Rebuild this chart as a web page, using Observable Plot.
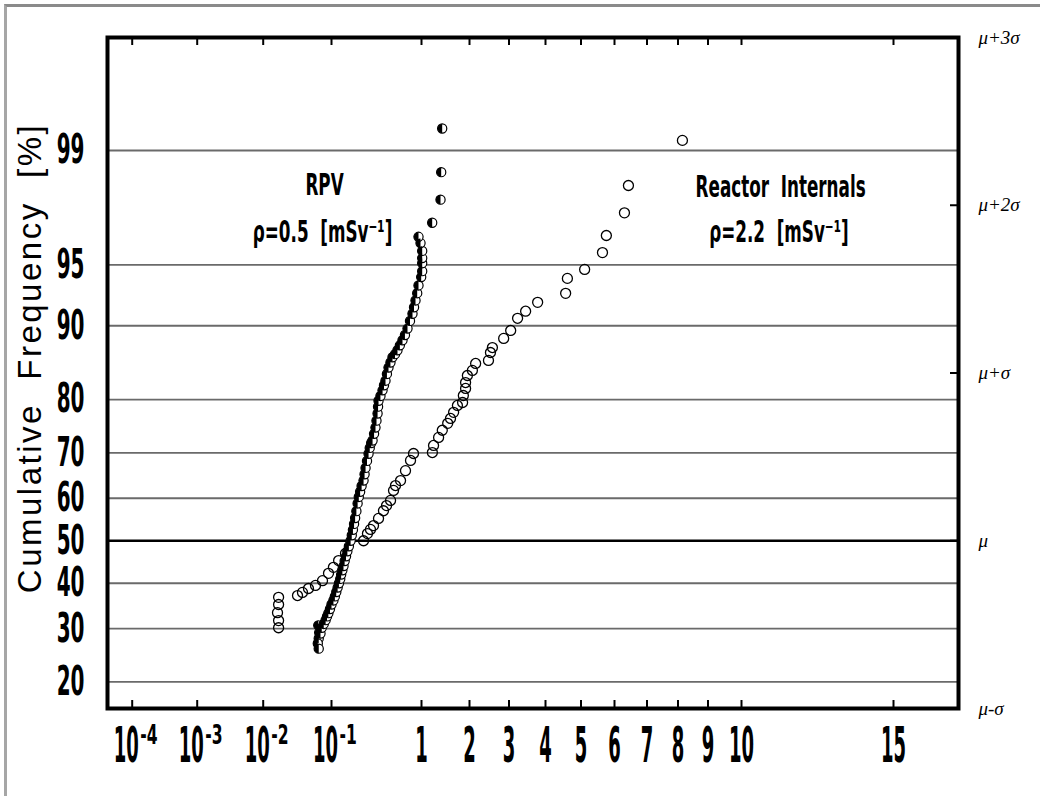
<!DOCTYPE html>
<html><head><meta charset="utf-8">
<script src="https://cdn.jsdelivr.net/npm/d3@7"></script>
<script src="https://cdn.jsdelivr.net/npm/@observablehq/plot@0.6"></script>
<style>
html,body{margin:0;padding:0;background:#fff;}
#wrap{position:relative;width:1040px;height:796px;overflow:hidden;}
#scan{position:absolute;left:4px;top:4px;right:-10px;bottom:-10px;border-top:3px solid #8a8a8a;border-left:3px solid #a6a6a6;}
#chart{position:absolute;left:0;top:0;}
</style></head><body>
<div id="wrap"><div id="scan"></div><div id="chart"></div></div>
<script>
// ---- data ----
const rpvDose = [0.064,0.066,0.065,0.063,0.065,0.069,0.072,0.077,0.082,0.086,0.090,0.095,0.100,0.105,0.109,0.113,0.117,0.121,0.125,0.128,0.132,0.136,0.140,0.145,0.150,0.156,0.163,0.168,0.173,0.178,0.183,0.189,0.195,0.201,0.208,0.216,0.227,0.233,0.239,0.248,0.258,0.266,0.276,0.286,0.297,0.308,0.316,0.325,0.329,0.333,0.350,0.369,0.383,0.398,0.413,0.430,0.452,0.476,0.508,0.541,0.575,0.615,0.655,0.699,0.745,0.794,0.826,0.858,0.896,0.926,0.992,1.01,1.01,1.01,1.01,0.975,0.926,1.167,1.316,1.329,1.348];
const rpvFreq = [30.7,29.2,28.0,27.0,26.0,29.0,30.2,31.0,31.8,32.6,33.3,34.2,35.2,36.1,37.0,38.0,39.0,40.0,41.0,42.0,43.0,44.0,45.2,46.3,47.5,48.7,50.0,51.3,52.6,54.0,55.4,57.0,58.8,60.3,61.5,62.8,64.0,65.4,66.8,68.3,69.8,71.0,72.0,72.5,73.8,75.0,76.3,77.6,78.8,79.8,80.6,81.5,82.3,83.0,84.0,84.9,85.6,86.3,86.7,87.2,87.8,88.4,89.0,89.7,90.5,91.2,91.8,92.4,93.0,93.6,94.2,94.6,95.1,95.4,95.8,96.2,96.5,97.1,97.9,98.6,99.3];
const riDose = [8.14,6.41,6.29,5.74,5.62,5.10,4.59,4.54,3.76,3.42,3.21,3.04,2.84,2.53,2.48,2.43,2.13,2.06,1.94,1.89,1.89,1.83,1.81,1.68,1.59,1.52,1.46,1.35,1.28,1.19,1.17,0.815,0.755,0.664,0.585,0.514,0.489,0.453,0.409,0.378,0.333,0.293,0.271,0.251,0.227,0.143,0.120,0.105,0.0904,0.0738,0.0583,0.0460,0.0376,0.0318,0.0168,0.0168,0.0162,0.0168,0.0168];
const riFreq = [99.15,98.29,97.47,96.56,95.71,94.71,94.11,92.99,92.24,91.44,90.76,89.50,88.61,87.53,86.91,85.88,85.47,84.50,83.77,82.72,81.80,80.67,79.51,79.0,77.8,76.7,75.8,74.5,73.1,71.5,70.05,69.85,68.4,66.2,64.0,62.9,61.8,59.5,58.3,57.1,55.3,53.6,52.7,51.7,50.0,47.0,45.3,43.7,42.3,40.6,39.5,38.8,37.9,37.2,36.8,35.2,33.4,31.7,30.2];

const freqTicks = [20,30,40,50,60,70,80,90,95,99];
const sigmaTicks = [-1,0,1,2,3];
const sigmaLabels = ["μ-σ","μ","μ+σ","μ+2σ","μ+3σ"];
const doseLogTicks = [1e-4,1e-3,1e-2,1e-1];
const doseLinTicks = [1,2,3,4,5,6,7,8,9,10,15];

const annoText = ["RPV","ρ=0.5  [mSv⁻¹]","Reactor  Internals","ρ=2.2  [mSv⁻¹]"];
const annoDose = [0.079,0.074,11.1,11.05];
const annoFreq = [98.3,96.7,98.24,96.7];

// hand-drawn, piecewise dose axis of the original sheet (knots of the x scale)
const xKnots = [4.2e-5,1e-4,1e-3,1e-2,1e-1,1,2,3,4,5,6,7,8,9,10,15,17.1];
const xKnotPx = [107,131.7,196.7,262.7,331,421,469,508.5,545,580.5,614,646.5,677.5,707.5,741,893,958];

// ---- normal probability (probit) transform ----
function probit(p){
  const a=[-3.969683028665376e+01,2.209460984245205e+02,-2.759285104469687e+02,1.383577518672690e+02,-3.066479806614716e+01,2.506628277459239e+00];
  const b=[-5.447609879822406e+01,1.615858368580409e+02,-1.556989798598866e+02,6.680131188771972e+01,-1.328068155288572e+01];
  const c=[-7.784894002430293e-03,-3.223964580411365e-01,-2.400758277161838e+00,-2.549732539343734e+00,4.374664141464968e+00,2.938163982698783e+00];
  const d=[7.784695709041462e-03,3.224671290700398e-01,2.445134137142996e+00,3.754408661907416e+00];
  const pl=0.02425;
  if(p<pl){const q=Math.sqrt(-2*Math.log(p));return (((((c[0]*q+c[1])*q+c[2])*q+c[3])*q+c[4])*q+c[5])/((((d[0]*q+d[1])*q+d[2])*q+d[3])*q+1);}
  if(p>1-pl){const q=Math.sqrt(-2*Math.log(1-p));return -(((((c[0]*q+c[1])*q+c[2])*q+c[3])*q+c[4])*q+c[5])/((((d[0]*q+d[1])*q+d[2])*q+d[3])*q+1);}
  const q=p-0.5,r=q*q;return (((((a[0]*r+a[1])*r+a[2])*r+a[3])*r+a[4])*r+a[5])*q/(((((b[0]*r+b[1])*r+b[2])*r+b[3])*r+b[4])*r+1);
}
const zOf = p => probit(p/100);

const rpv = rpvDose.map((x,i)=>({dose:x, z:zOf(rpvFreq[i])}));
const ri = riDose.map((x,i)=>({dose:x, z:zOf(riFreq[i])}));

const halfLeft = {draw(ctx, size){const r=Math.sqrt(size/Math.PI);ctx.moveTo(0,-r);ctx.arc(0,0,r,-Math.PI/2,Math.PI/2,true);ctx.closePath();}};

const W=1040,H=796,ML=107,MR=82,MT=37,MB=88;
const FW=W-ML-MR, FH=H-MT-MB;
const digitFont = "DejaVu Sans, sans-serif";

// font sizes double as identifiers for the condensed typewriter-like lettering
const FS_XLAB=50, FS_EXP=26, FS_YLAB=40, FS_ANNO=30, FS_TITLE=33, FS_SIGMA=19;

const chart = Plot.plot({
  width:W, height:H, marginLeft:ML, marginRight:MR, marginTop:MT, marginBottom:MB,
  style:{background:"transparent", color:"#000", fontFamily:digitFont},
  x:{type:"log", domain:xKnots, range:xKnotPx, axis:null},
  y:{domain:[-1,3], axis:null},
  marks:[
    Plot.ruleY(freqTicks.filter(d=>d!==50), {y:zOf, stroke:"#6a6a6a", strokeWidth:1.8}),
    Plot.ruleY([50], {y:zOf, stroke:"#000", strokeWidth:2.5}),
    Plot.tickX([...doseLogTicks,...doseLinTicks], {x:d=>d, insetTop:FH-8, strokeWidth:2}),
    Plot.tickX([...doseLogTicks,...doseLinTicks], {x:d=>d, insetBottom:FH-8, strokeWidth:2}),
    Plot.tickY([0,1,2], {y:d=>d, insetLeft:FW-8, strokeWidth:2}),
    Plot.frame({stroke:"#000", strokeWidth:4}),
    Plot.dot(ri, {x:"dose", y:"z", r:5, stroke:"#000", strokeWidth:1.3, fill:"none"}),
    Plot.dot(rpv, {x:"dose", y:"z", r:4.6, stroke:"#000", strokeWidth:1.2, fill:"white"}),
    Plot.dot(rpv, {x:"dose", y:"z", r:4.6, symbol:halfLeft, fill:"#000"}),
    // x tick labels
    Plot.text(doseLogTicks, {x:d=>d, text:()=>"10", frameAnchor:"bottom", lineAnchor:"top", dy:18, dx:-6, fontSize:FS_XLAB, fontWeight:"bold"}),
    Plot.text(doseLinTicks, {x:d=>d, text:d=>String(d), frameAnchor:"bottom", lineAnchor:"top", dy:18, fontSize:FS_XLAB, fontWeight:"bold"}),
    Plot.text(doseLogTicks, {x:d=>d, text:d=>"-"+Math.round(-Math.log10(d)), frameAnchor:"bottom", textAnchor:"start", lineAnchor:"top", dx:8, dy:17, fontSize:FS_EXP, fontWeight:"bold"}),
    // y tick labels
    Plot.text(freqTicks, {y:zOf, text:d=>String(d), frameAnchor:"left", textAnchor:"end", lineAnchor:"middle", dx:-23, fontSize:FS_YLAB, fontWeight:"bold"}),
    // right-hand sigma labels
    Plot.text(sigmaTicks, {y:d=>d, text:d=>sigmaLabels[sigmaTicks.indexOf(d)], frameAnchor:"right", textAnchor:"start", dx:20, fontSize:FS_SIGMA, fontStyle:"italic", fontFamily:"Liberation Serif, serif"}),
    // y title
    Plot.text(["Cumulative  Frequency  [%]"], {frameAnchor:"left", textAnchor:"middle", rotate:-90, dx:-77, dy:-15, fontSize:FS_TITLE, fontFamily:"Liberation Sans, Arial, sans-serif"}),
    // annotations
    Plot.text(annoText, {x:(d,i)=>annoDose[i], y:(d,i)=>zOf(annoFreq[i]), text:d=>d, fontSize:FS_ANNO, fontWeight:"bold"})
  ]
});
document.getElementById("chart").appendChild(chart);

function condense(fs, s){
  chart.querySelectorAll(`g[font-size="${fs}"] text`).forEach(t=>{
    t.setAttribute("transform", `${t.getAttribute("transform")||""} scale(${s},1)`);
  });
}
condense(FS_XLAB, 0.36);
condense(FS_EXP, 0.6);
condense(FS_YLAB, 0.5);
condense(FS_ANNO, 0.56);
chart.querySelectorAll(`g[font-size="${FS_TITLE}"] text, g[font-size="${FS_ANNO}"] text`).forEach(t=>{
  t.setAttribute("xml:space","preserve"); t.style.whiteSpace="pre";
});
chart.querySelectorAll(`g[font-size="${FS_TITLE}"] text`).forEach(t=>{t.style.letterSpacing="2.5px";});
</script></body></html>
